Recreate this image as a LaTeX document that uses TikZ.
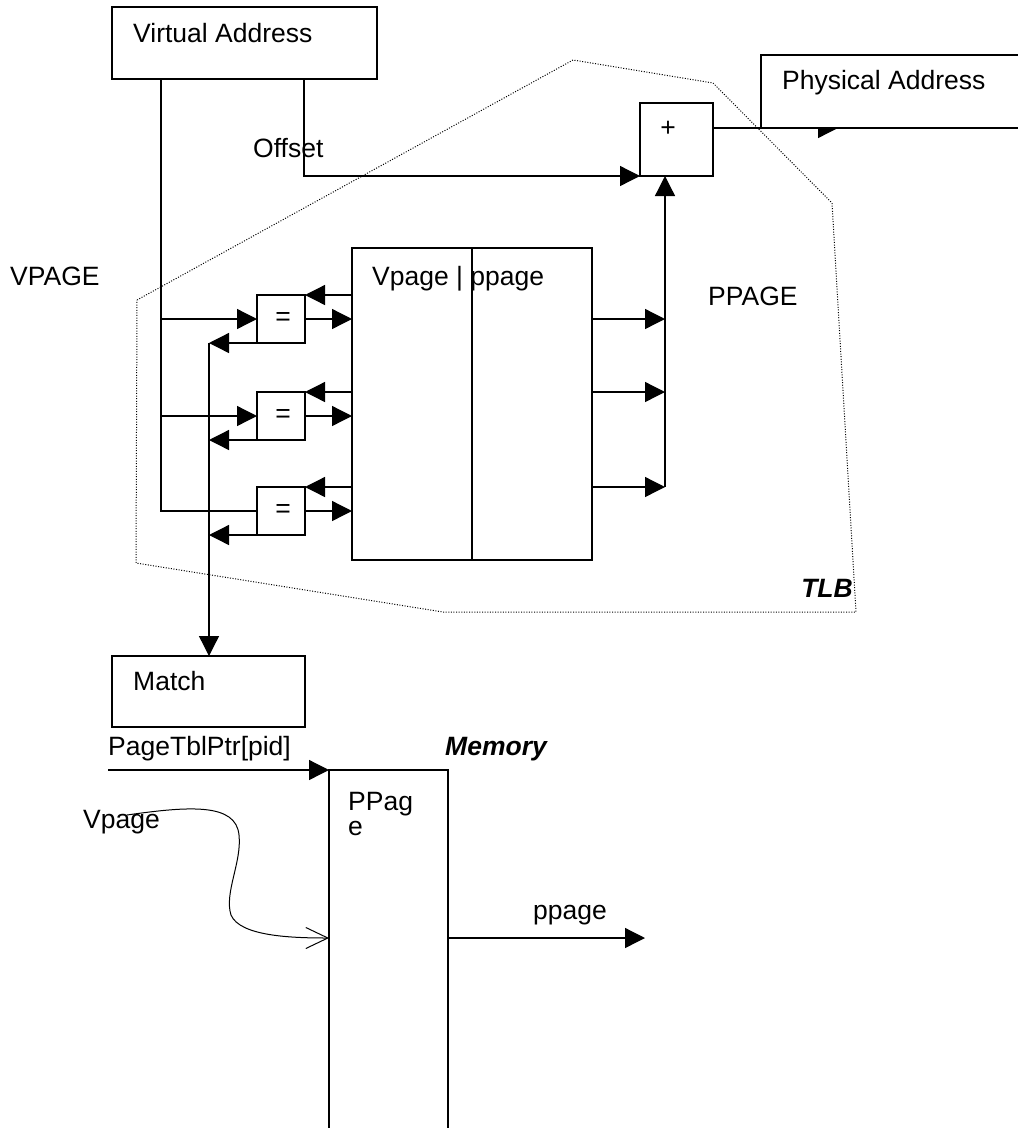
\documentclass[tikz,border=0pt]{standalone}
\usepackage{fontspec}
\setmainfont{Liberation Sans}
\usetikzlibrary{arrows.meta,calc}
\begin{document}
\begin{tikzpicture}[x=1pt,y=-1pt,
  box/.style={draw,line width=1.3pt,inner sep=0pt,outer sep=0pt,anchor=north west,fill=white},
  openbox/.style={inner sep=0pt,outer sep=0pt,anchor=north west},
  conn/.style={line width=1.3pt},
  arr/.style={conn,-{Triangle[length=20pt,width=20pt]}},
  lbl/.style={inner sep=0pt,anchor=base west,font=\fontsize{26.5}{31}\selectfont},
  blbl/.style={lbl,font=\fontsize{26.5}{31}\selectfont\bfseries\itshape},
  tlbline/.style={line width=1pt,dash pattern=on 1pt off 1.6pt}]
\useasboundingbox[fill=white] (0,0) rectangle (1018,1128);

% TLB outline
\draw[tlbline] (137,300) -- (573,60) -- (713,83) -- (832,203) -- (856,612) -- (443,612) -- (136,563) -- cycle;

% boxes
\node[box,minimum width=265pt,minimum height=72pt] (va) at (112,7) {};
\node[box,minimum width=73pt,minimum height=73pt] (plus) at (640,103) {};
\node[box,minimum width=240pt,minimum height=312pt] (tab) at (352,248) {};
\node[box,minimum width=48pt,minimum height=48pt] (eq1) at (257,295) {};
\node[box,minimum width=48pt,minimum height=48pt] (eq2) at (257,392) {};
\node[box,minimum width=48pt,minimum height=48pt] (eq3) at (257,487) {};
\node[box,minimum width=193pt,minimum height=71pt] (match) at (112,656) {};
\node[openbox,minimum width=119pt,minimum height=370pt] (mem) at (329,770) {};
\draw[conn] (mem.south west) -- (mem.north west) -- (mem.north east) -- (mem.south east);
\draw[conn] (tab.north) ++(0,0) coordinate (divtop);
\coordinate (divx) at (472,0);
\draw[conn] (divx |- tab.north) -- (divx |- tab.south);

% junction coordinates
\coordinate (vcol) at (161,0);
\coordinate (mcol) at (209,0);
\coordinate (pcol) at (665,0);
\coordinate (ocol) at (304,0);
\coordinate (oturn) at (304,176);
\coordinate (paout) at (838,128);
\coordinate (plusout) at (713,128);
\coordinate (pptarget) at (645,938);

% VPAGE line and comparators
\draw[conn] (va.south -| vcol) -- (vcol |- eq3.west) -- (eq3.west);
\draw[arr] (vcol |- eq1.west) -- (eq1.west);
\draw[arr] (vcol |- eq2.west) -- (eq2.west);
\foreach \e in {eq1,eq2,eq3}{
  \draw[arr] (tab.west |- \e.north east) -- (\e.north east);
  \draw[arr] (\e.east) -- (\e.east -| tab.west);
  \draw[arr] (\e.south west) -- (\e.south west -| mcol);
}
\draw[arr] (mcol |- eq1.south) -- (mcol |- match.north);

% right side ppage outputs
\draw[arr] (tab.east |- eq1.east) -- (pcol |- eq1.east);
\draw[arr] (tab.east |- eq2.north) -- (pcol |- eq2.north);
\draw[arr] (tab.east |- eq3.north) -- (pcol |- eq3.north);
\draw[arr] (pcol |- eq3.north) -- (pcol |- plus.south);

% offset
\draw[arr] (va.south -| ocol) -- (oturn) -- (plus.south west);

% plus to physical address
\draw[arr] (plusout) -- (paout);
\node[openbox,fill=white,minimum width=260pt,minimum height=73pt] (pa) at (761,55) {};
\draw[conn] (pa.north east) -- (pa.north west) -- (pa.south west) -- (pa.south east);

% memory
\draw[arr] (108,770) coordinate (ptrstart) -- (mem.north west);
\draw[line width=1pt,-{Straight Barb[length=22pt,width=21pt,line width=1pt]}]
  (127,815) .. controls (190,806) and (236,803) .. (239,835)
  .. controls (242,862) and (224,893) .. (231,915)
  .. controls (240,936) and (290,938) .. (mem.west |- pptarget);
\draw[arr] (mem.east |- pptarget) -- (pptarget);

% labels
\node[lbl] (tva) at (133,42) {Virtual Address};
\node[lbl] (tpa) at (782,89) {Physical Address};
\node[lbl] (toff) at (253,157) {Offset};
\node[inner sep=0pt,font=\fontsize{26.5}{31}\selectfont] (tplus) at (668,129) {+};
\node[lbl] (tvp) at (10,285) {VPAGE};
\node[lbl] (ttab) at (372,285) {Vpage | ppage};
\node[lbl] (tpp) at (708,305) {PPAGE};
\foreach \e in {eq1,eq2,eq3}{
  \node[inner sep=0pt,font=\fontsize{26.5}{31}\selectfont] (t\e) at ($(\e.center)+(2,0)$) {=};
}
\node[blbl,anchor=base east] (ttlb) at (853,597) {TLB};
\node[lbl] (tmatch) at (133,690) {Match};
\node[lbl] (tptr) at (108,755) {PageTblPtr[pid]};
\node[blbl] (tmem) at (445,755) {Memory};
\node[lbl] (tppag) at (348,810) {PPag};
\node[lbl] (te) at (348,835) {e};
\node[lbl] (tvpage) at (83,828) {Vpage};
\node[lbl] (tppage) at (533,919) {ppage};
\end{tikzpicture}
\end{document}
